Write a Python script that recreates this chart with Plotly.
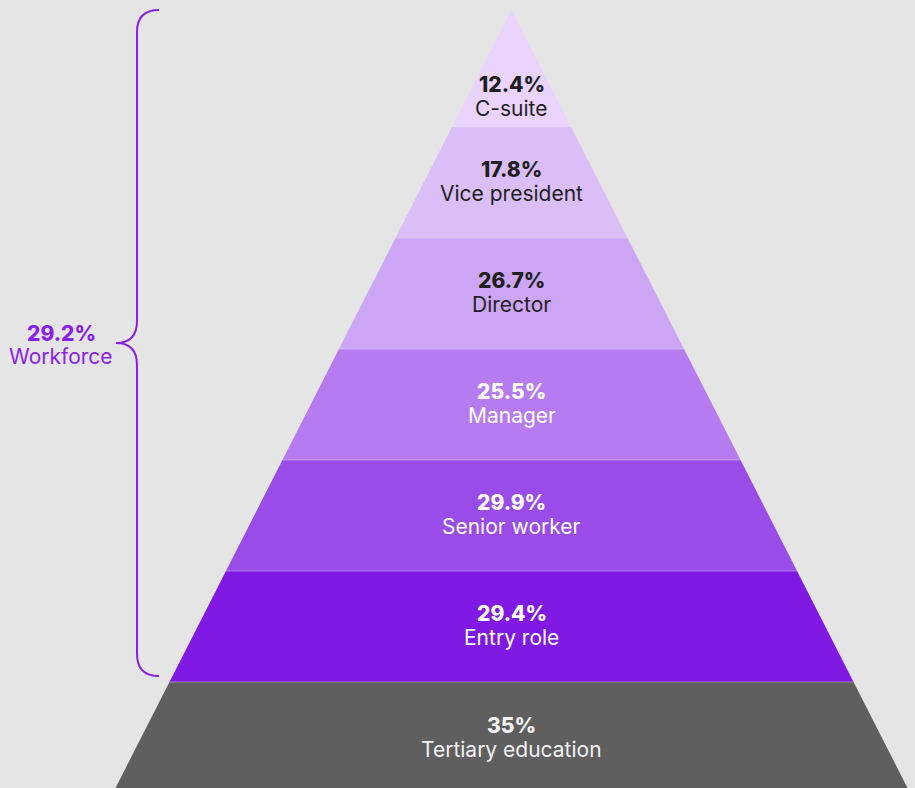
import plotly.graph_objects as go

# Pyramid tiers, top to bottom
tiers = ["C-suite", "Vice president", "Director", "Manager",
         "Senior worker", "Entry role", "Tertiary education"]
shares = [12.4, 17.8, 26.7, 25.5, 29.9, 29.4, 35]
share_text = ["12.4%", "17.8%", "26.7%", "25.5%", "29.9%", "29.4%", "35%"]
fills = ["#ead3fc", "#dbbdf8", "#cca5f5", "#b77bf1", "#9a4ce8", "#8019e4", "#5f5f5f"]
text_colors = ["#1f1f1f", "#1f1f1f", "#1f1f1f", "#ffffff", "#ffffff", "#ffffff", "#f2f2f2"]

workforce_share = "29.2%"
workforce_label = "Workforce"

W, H = 915, 788
BG = "#e5e5e5"
PURPLE = "#8a22e6"
FONT = "Inter"
FS = 21

# geometry (pixel-space axes)
apex_x, apex_y = 511.5, 10
slope = 0.509          # half-width per unit of height
tier_h = 111
first_bottom = 127

def half_width(y):
    return slope * (y - apex_y)

bottoms = [first_bottom + tier_h * i for i in range(len(tiers))]
tops = [apex_y] + bottoms[:-1]

fig = go.Figure()

for i, name in enumerate(tiers):
    t, b = tops[i], bottoms[i]
    xs = [apex_x - half_width(t), apex_x + half_width(t),
          apex_x + half_width(b), apex_x - half_width(b), apex_x - half_width(t)]
    ys = [t, t, b, b, t]
    fig.add_trace(go.Scatter(x=xs, y=ys, mode="lines", fill="toself",
                             fillcolor=fills[i], line=dict(width=0),
                             hoverinfo="skip", showlegend=False))

# thin separators between tiers
for b in bottoms[:-1]:
    fig.add_shape(type="line", xref="x", yref="y",
                  x0=apex_x - half_width(b), x1=apex_x + half_width(b), y0=b, y1=b,
                  line=dict(color="rgba(229,229,229,0.4)", width=1))

# tier labels
pct_offset = [74, 42, 42, 42, 42, 42, 43]
for i, name in enumerate(tiers):
    t = tops[i]
    y_pct = t + pct_offset[i]
    fig.add_annotation(x=apex_x, y=y_pct, text=share_text[i],
                       showarrow=False,
                       font=dict(family=FONT, size=FS, weight=800, color=text_colors[i]),
                       xanchor="center", yanchor="middle")
    fig.add_annotation(x=apex_x, y=y_pct + 24, text=name,
                       showarrow=False, font=dict(family=FONT, size=FS, color=text_colors[i]),
                       xanchor="center", yanchor="middle")

# curly bracket spanning the workforce tiers
bx, top_y, bot_y, mid_y = 137, 10, 676, 343
r = 22
path = (f"M {bx+22},{top_y} Q {bx},{top_y} {bx},{top_y+r} "
        f"L {bx},{mid_y-r} Q {bx},{mid_y} {bx-21},{mid_y} "
        f"Q {bx},{mid_y} {bx},{mid_y+r} "
        f"L {bx},{bot_y-r} Q {bx},{bot_y} {bx+22},{bot_y}")
fig.add_shape(type="path", path=path, xref="x", yref="y",
              line=dict(color=PURPLE, width=2))

fig.add_annotation(x=61, y=333, text=workforce_share, showarrow=False,
                   font=dict(family=FONT, size=FS, weight=800, color=PURPLE),
                   xanchor="center", yanchor="middle")
fig.add_annotation(x=61, y=356, text=workforce_label, showarrow=False,
                   font=dict(family=FONT, size=FS, color=PURPLE),
                   xanchor="center", yanchor="middle")

fig.update_layout(
    width=W, height=H,
    margin=dict(l=0, r=0, t=0, b=0),
    paper_bgcolor=BG, plot_bgcolor=BG,
    xaxis=dict(range=[0, W], visible=False, fixedrange=True),
    yaxis=dict(range=[H, 0], visible=False, fixedrange=True),
    showlegend=False,
)

fig.write_html("out.html", config={"displayModeBar": False})
